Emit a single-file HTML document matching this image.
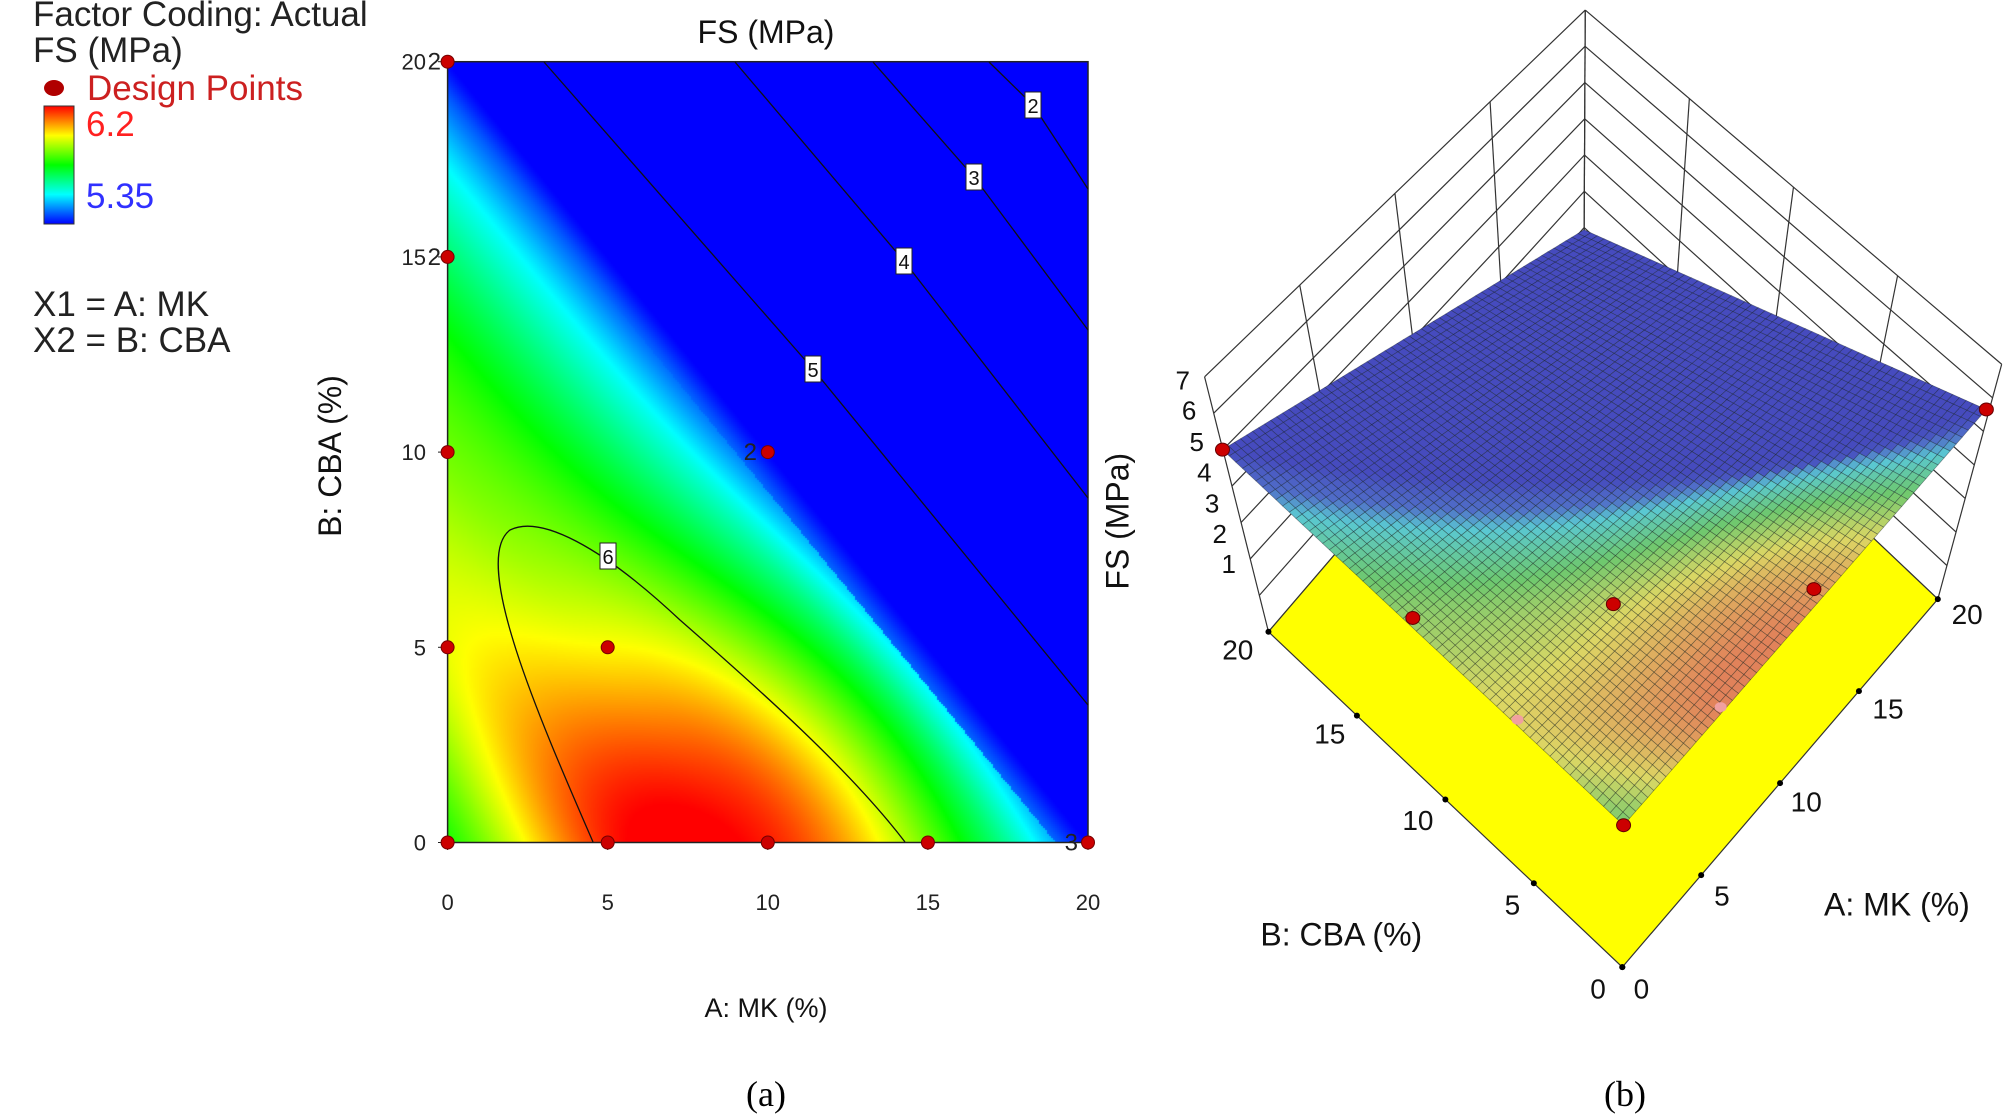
<!DOCTYPE html>
<html><head><meta charset="utf-8">
<style>
html,body{margin:0;padding:0;background:#fff;}
body{width:2003px;height:1119px;position:relative;overflow:hidden;font-family:"Liberation Sans",sans-serif;}
canvas{position:absolute;left:447px;top:62px;}
svg{position:absolute;left:0;top:0;}
</style></head><body>
<canvas id="c" width="641" height="781"></canvas>
<svg id="s" width="2003" height="1119" xmlns="http://www.w3.org/2000/svg" font-family="Liberation Sans, sans-serif">
<defs>
<linearGradient id="cb" x1="0" y1="0" x2="0" y2="1">
<stop offset="0" stop-color="#ff0000"/><stop offset="0.25" stop-color="#ffff00"/><stop offset="0.5" stop-color="#00ff00"/><stop offset="0.75" stop-color="#00ffff"/><stop offset="1" stop-color="#0000ff"/>
</linearGradient>
</defs>
<text x="33" y="26" font-size="35" fill="#222">Factor Coding: Actual</text>
<text x="33" y="62" font-size="35" fill="#222">FS (MPa)</text>
<ellipse cx="54" cy="88" rx="10" ry="8" fill="#b00000"/>
<text x="87" y="100" font-size="35" fill="#cc2020">Design Points</text>
<rect x="44" y="106" width="30" height="118" fill="url(#cb)" stroke="#333" stroke-width="1"/>
<text x="86" y="136" font-size="35" fill="#ff2020">6.2</text>
<text x="86" y="208" font-size="35" fill="#3030ff">5.35</text>
<text x="33" y="316" font-size="35" fill="#222">X1 = A: MK</text>
<text x="33" y="352" font-size="35" fill="#222">X2 = B: CBA</text>
<text x="766" y="43" font-size="32" text-anchor="middle" fill="#111">FS (MPa)</text>
<text transform="translate(341,456) rotate(-90)" font-size="32" text-anchor="middle" fill="#111">B: CBA (%)</text>
<text x="766" y="1017" font-size="27" text-anchor="middle" fill="#111">A: MK (%)</text>
<text x="766" y="1106" font-size="36" text-anchor="middle" font-family="Liberation Serif, serif" fill="#000">(a)</text>
<text x="1625" y="1106" font-size="36" text-anchor="middle" font-family="Liberation Serif, serif" fill="#000">(b)</text>
<g id="g2d"></g>
<g id="g3d"></g>
</svg>
<script>
var KX=[-5,0,5,10,13,17,19,20,25],KY=[0.2,0.42,0.68,0.6,0.5,0.27,0.1,0,-0.3];
function base(u){for(var i=1;i<KX.length-2;i++){if(u<=KX[i+1]){var h=KX[i+1]-KX[i],f=(u-KX[i])/h;
 var m0=(KY[i+1]-KY[i-1])/(KX[i+1]-KX[i-1])*h,m1=(KY[i+2]-KY[i])/(KX[i+2]-KX[i])*h;
 var f2=f*f,f3=f2*f;return (2*f3-3*f2+1)*KY[i]+(f3-2*f2+f)*m0+(-2*f3+3*f2)*KY[i+1]+(f3-f2)*m1;}}return -1;}
function tval(a,b){var t=base(a+b)+0.38*Math.exp(-((a-9)*(a-9)/60+b*b/40));if(a+b>19)t=Math.min(t,base(a+b));return Math.max(0,Math.min(1,t));}
function cmap(t){var s=[[0,0,0,255],[0.25,0,255,255],[0.5,0,255,0],[0.75,255,255,0],[1,255,0,0]];
 for(var i=0;i<4;i++){if(t<=s[i+1][0]){var f=(t-s[i][0])/(s[i+1][0]-s[i][0]);return [0,1,2].map(function(k){return Math.round(s[i][k+1]+f*(s[i+1][k+1]-s[i][k+1]));});}}return [255,0,0];}
function cmap3(t){var s=[[0,70,75,190],[0.2,80,110,200],[0.3,90,200,210],[0.5,110,200,110],[0.72,220,215,100],[1,225,130,90]];
 for(var i=0;i<s.length-1;i++){if(t<=s[i+1][0]){var f=(t-s[i][0])/(s[i+1][0]-s[i][0]);return [0,1,2].map(function(k){return Math.round(s[i][k+1]+f*(s[i+1][k+1]-s[i][k+1]));});}}return [225,130,90];}
var cv=document.getElementById('c'),ctx=cv.getContext('2d'),W=641,H=781;
for(var x=0;x<W;x+=2)for(var y=0;y<H;y+=2){var a=x/W*20,b=(1-y/H)*20;var c=cmap(tval(a,b));ctx.fillStyle='rgb('+c+')';ctx.fillRect(x,y,2,2);}
var NS='http://www.w3.org/2000/svg';
function el(p,tag,at,txt){var e=document.createElementNS(NS,tag);for(var k in at)e.setAttribute(k,at[k]);if(txt!=null)e.textContent=txt;p.appendChild(e);return e;}
var g=document.getElementById('g2d');
function X(a){return 447.6+a/20*640.4;}function Y(b){return 842.5-b/20*780.8;}
el(g,'rect',{x:447.6,y:61.7,width:640.4,height:780.8,fill:'none',stroke:'#222','stroke-width':1.5});
var paths=["M544,62 L813,369 L1088,705","M735,62 L904,261 L1088,498","M873,62 L974,177 L1088,330","M989,62 L1033,105 L1088,189",
"M593,842 C540,720 470,560 510,530 C540,515 600,545 680,620 C760,690 850,770 905,842"];
paths.forEach(function(d){el(g,'path',{d:d,fill:'none',stroke:'#111','stroke-width':1.3});});
[["2",1033,105],["3",974,177],["4",904,261],["5",813,369],["6",608,556]].forEach(function(l){
 el(g,'rect',{x:l[1]-8,y:l[2]-13,width:16,height:26,fill:'#fff',stroke:'#222','stroke-width':1});
 el(g,'text',{x:l[1],y:l[2]+8,'font-size':20,'text-anchor':'middle',fill:'#111'},l[0]);});
[0,5,10,15,20].forEach(function(v){
 el(g,'line',{x1:X(v),y1:842.5,x2:X(v),y2:850,stroke:'#222'});
 el(g,'text',{x:X(v),y:910,'font-size':22,'text-anchor':'middle',fill:'#222'},v);
 el(g,'line',{x1:438,y1:Y(v),x2:447.6,y2:Y(v),stroke:'#222'});
 el(g,'text',{x:426,y:Y(v)+8,'font-size':22,'text-anchor':'end',fill:'#222'},v);});
[[0,20],[0,15],[0,10],[0,5],[0,0],[5,0],[10,0],[15,0],[20,0],[5,5],[10,10]].forEach(function(p){
 el(g,'ellipse',{cx:X(p[0]),cy:Y(p[1]),rx:6.5,ry:6.5,fill:'#cc0000',stroke:'#700','stroke-width':1});});
[["2",441,Y(20)],["2",441,Y(15)],["2",757,Y(10)],["3",1078,Y(0)]].forEach(function(l){el(g,'text',{x:l[1],y:l[2]+8,'font-size':24,'text-anchor':'end',fill:'#222'},l[0]);});
var g3=document.getElementById('g3d');
function D(x,y){return [x*1.2774,y*1.256];}
var apex=D(1241,8),fb=D(1240,210),fl=D(993,503),fr=D(1517,477),fbo=D(1270,770),tl=D(943,300),tr=D(1567,290);
function ln(p,q,w){el(g3,'line',{x1:p[0],y1:p[1],x2:q[0],y2:q[1],stroke:'#333','stroke-width':w||1.2});}
function lerp(p,q,f){return [p[0]+(q[0]-p[0])*f,p[1]+(q[1]-p[1])*f];}
for(var i=0;i<=7;i++){var f=i/7;ln(lerp(fl,tl,f),lerp(fb,apex,f));ln(lerp(fr,tr,f),lerp(fb,apex,f));}
for(var i=0;i<=4;i++){var f=i/4;ln(lerp(fl,fb,f),lerp(tl,apex,f));ln(lerp(fr,fb,f),lerp(tr,apex,f));}
el(g3,'polygon',{points:[fl,fbo,fr,fb].map(function(p){return p.join(',');}).join(' '),fill:'#ffff00',stroke:'#333','stroke-width':1.2});
for(var i=0;i<=4;i++){var f=i/4;var p=lerp(fbo,fl,f),q=lerp(fbo,fr,f);el(g3,'circle',{cx:p[0],cy:p[1],r:3,fill:'#000'});el(g3,'circle',{cx:q[0],cy:q[1],r:3,fill:'#000'});}
var sB=D(1271,657),sR=D(1555,326),sL=D(957,358),sK=D(1240,183);
function sp(a,b){var u=a/20,v=b/20;return [sB[0]*(1-u)*(1-v)+sR[0]*u*(1-v)+sL[0]*(1-u)*v+sK[0]*u*v,sB[1]*(1-u)*(1-v)+sR[1]*u*(1-v)+sL[1]*(1-u)*v+sK[1]*u*v];}
var N=60,h=20/N,frag='';
for(var i=N-1;i>=0;i--)for(var j=N-1;j>=0;j--){var a=i*h,b=j*h;var c=cmap3(tval(a+h/2,b+h/2));
 var pts=[sp(a,b),sp(a+h,b),sp(a+h,b+h),sp(a,b+h)].map(function(p){return p[0].toFixed(1)+','+p[1].toFixed(1);}).join(' ');
 frag+='<polygon points="'+pts+'" fill="rgb('+c+')" stroke="rgba(20,30,40,0.45)" stroke-width="0.7"/>';}
var sg=document.createElementNS(NS,'g');sg.innerHTML=frag;g3.appendChild(sg);
[sL,sR,sB,D(1106,492),D(1263,481),D(1420,469)].forEach(function(p){el(g3,'ellipse',{cx:p[0],cy:p[1],rx:7,ry:6.5,fill:'#cc0000',stroke:'#600'});});
[D(1188,573),D(1347,563)].forEach(function(p){el(g3,'ellipse',{cx:p[0],cy:p[1],rx:6,ry:5,fill:'#f0a0a0'});});
[["7",929,303],["6",934,327],["5",940,352],["4",946,376],["3",952,401],["2",958,425],["1",965,449]].forEach(function(l){var p=D(l[1],l[2]);el(g3,'text',{x:p[0]-4,y:p[1]+9,'font-size':26,'text-anchor':'middle',fill:'#111'},l[0]);});
[["20",969,517],["15",1041,584],["10",1110,653],["5",1184,720],["0",1251,787],["20",1540,489],["15",1478,564],["10",1414,638],["5",1348,713],["0",1285,787]].forEach(function(l){var p=D(l[1],l[2]);el(g3,'text',{x:p[0],y:p[1]+10,'font-size':28,'text-anchor':'middle',fill:'#111'},l[0]);});
var p=D(1050,744);el(g3,'text',{x:p[0],y:p[1]+11,'font-size':32,'text-anchor':'middle',fill:'#111'},'B: CBA (%)');
p=D(1485,720);el(g3,'text',{x:p[0],y:p[1]+11,'font-size':32,'text-anchor':'middle',fill:'#111'},'A: MK (%)');
p=D(875,415);el(g3,'text',{transform:'translate('+(p[0]+11)+','+p[1]+') rotate(-90)','font-size':32,'text-anchor':'middle',fill:'#111'},'FS (MPa)');
</script>
</body></html>
